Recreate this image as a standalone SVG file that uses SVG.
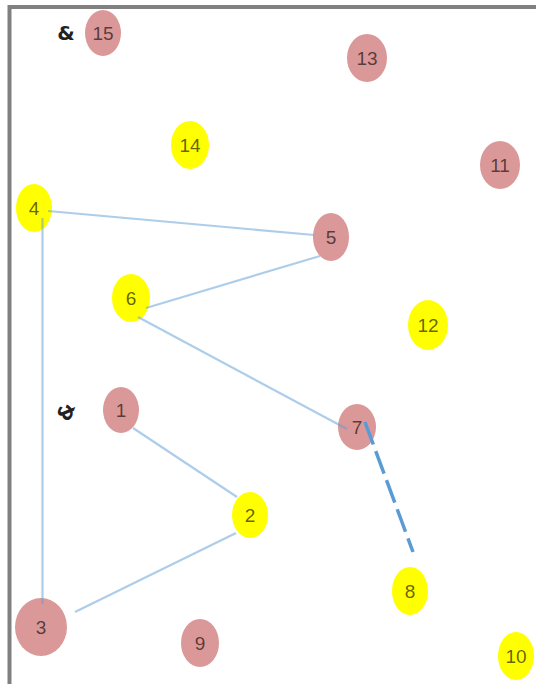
<svg xmlns="http://www.w3.org/2000/svg" width="536" height="684" viewBox="0 0 536 684">
<style>
.pink{fill:#db9898}
.yel{fill:#ffff00}
.lbl{font-family:"Liberation Sans",Arial,sans-serif;font-size:19px;fill:#000;fill-opacity:0.62;text-anchor:middle;dominant-baseline:central}
.e{stroke:#5b9bd5;stroke-opacity:0.5;stroke-width:2.2;fill:none}
.ed{stroke:#5b9bd5;stroke-width:3.5;fill:none;stroke-dasharray:24 7}
.ic{font-family:"DejaVu Sans",sans-serif;font-size:20px;font-weight:bold;fill:#222;text-anchor:middle;dominant-baseline:central}
</style>
<rect width="536" height="684" fill="#fff"/>
<path d="M9.5 684 V7 H536" stroke="#808080" stroke-width="4" fill="none"/>
<g id="icon-a"><text class="ic" x="66" y="33">&amp;</text></g>
<g id="icon-b"><text class="ic" x="66" y="412" transform="rotate(-70 66 412)">&amp;</text></g>
<g id="n15"><ellipse class="pink" cx="103" cy="33" rx="18" ry="23"/><text class="lbl" x="103" y="33">15</text></g>
<g id="n13"><ellipse class="pink" cx="367" cy="58" rx="20" ry="24"/><text class="lbl" x="367" y="58">13</text></g>
<g id="n14"><ellipse class="yel" cx="190" cy="145" rx="19" ry="24"/><text class="lbl" x="190" y="145">14</text></g>
<g id="n11"><ellipse class="pink" cx="500" cy="165" rx="20" ry="24"/><text class="lbl" x="500" y="165">11</text></g>
<g id="n4"><ellipse class="yel" cx="34" cy="208" rx="18" ry="24"/><text class="lbl" x="34" y="208">4</text></g>
<g id="n5"><ellipse class="pink" cx="331" cy="237" rx="18" ry="24"/><text class="lbl" x="331" y="237">5</text></g>
<g id="n6"><ellipse class="yel" cx="131" cy="298" rx="19" ry="24"/><text class="lbl" x="131" y="298">6</text></g>
<g id="n12"><ellipse class="yel" cx="428" cy="325" rx="20" ry="25"/><text class="lbl" x="428" y="325">12</text></g>
<g id="n1"><ellipse class="pink" cx="121" cy="410" rx="18" ry="23"/><text class="lbl" x="121" y="410">1</text></g>
<g id="n7"><ellipse class="pink" cx="357" cy="427" rx="19" ry="23"/><text class="lbl" x="357" y="427">7</text></g>
<g id="n2"><ellipse class="yel" cx="250" cy="515" rx="18" ry="23"/><text class="lbl" x="250" y="515">2</text></g>
<g id="n8"><ellipse class="yel" cx="410" cy="591" rx="18" ry="24"/><text class="lbl" x="410" y="591">8</text></g>
<g id="n3"><ellipse class="pink" cx="41" cy="627" rx="26" ry="29"/><text class="lbl" x="41" y="627">3</text></g>
<g id="n9"><ellipse class="pink" cx="200" cy="643" rx="19" ry="24"/><text class="lbl" x="200" y="643">9</text></g>
<g id="n10"><ellipse class="yel" cx="516" cy="656" rx="18" ry="24"/><text class="lbl" x="516" y="656">10</text></g>
<g id="connectors">
<line class="e" x1="48" y1="211" x2="314" y2="235"/>
<line class="e" x1="320" y1="256" x2="146" y2="308"/>
<line class="e" x1="138" y1="317" x2="347" y2="429"/>
<line class="e" x1="133" y1="428" x2="237" y2="497"/>
<line class="e" x1="236" y1="533" x2="75" y2="612"/>
<line class="e" x1="42.5" y1="218" x2="42.5" y2="604"/>
<line class="ed" x1="365" y1="422" x2="413" y2="552"/>
</g>
</svg>
